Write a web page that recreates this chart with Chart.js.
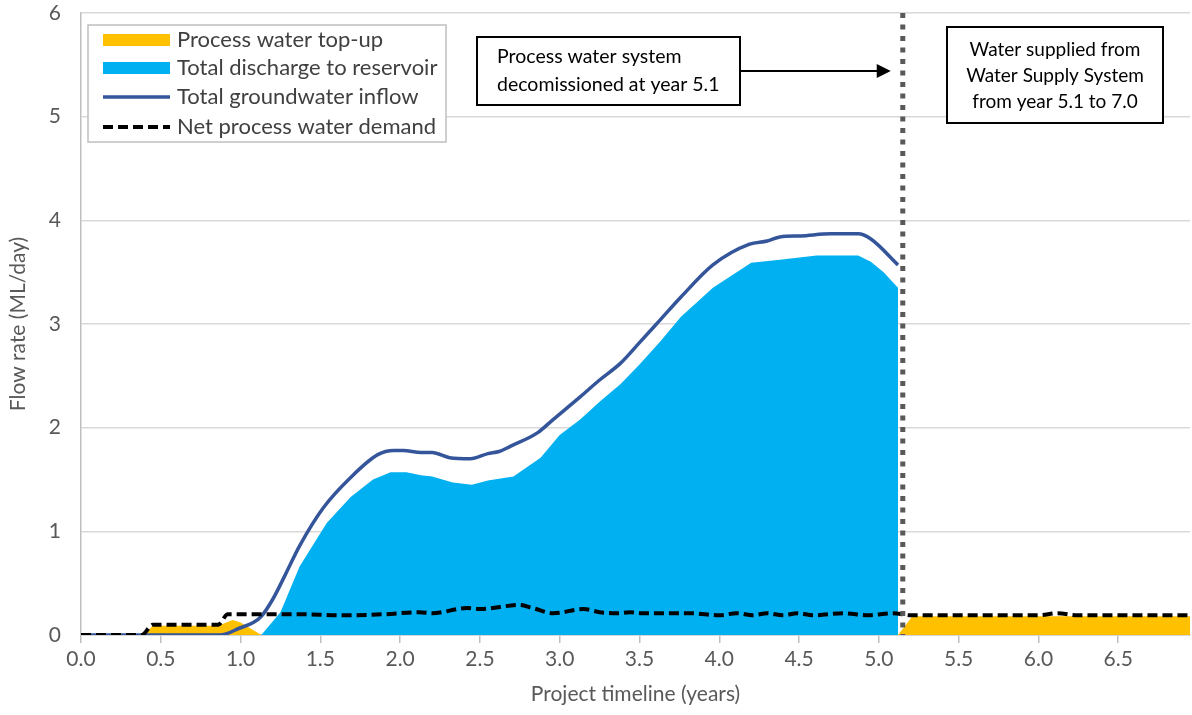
<!DOCTYPE html>
<html lang="en">
<head>
    <meta charset="UTF-8">
    <script src="https://cdn.jsdelivr.net/npm/chart.js@4"></script>
    <title>Flow rate</title>
    <style>
        body { margin: 0; background: #fff; }
    </style>
</head>
<body>
    <canvas id="chart" width="1192" height="715"></canvas>

    <script>
        // values (years, ML/day)
        const topupX = [0, 0.39, 0.45, 0.86, 0.95, 1.0, 1.13, 5.12, 5.21, 6.95];
        const topupY = [0, 0, 0.09, 0.09, 0.145, 0.12, 0, 0, 0.18, 0.18];

        const dischargeX = [0, 1.13, 1.25, 1.37, 1.54, 1.69, 1.83, 1.94, 2.04, 2.13, 2.2, 2.33, 2.45, 2.55, 2.71, 2.88, 3.0, 3.13, 3.25, 3.38, 3.5, 3.63, 3.76, 3.96, 4.2, 4.38, 4.61, 4.87, 4.95, 5.03, 5.12, 5.12];
        const dischargeY = [0, 0, 0.22, 0.66, 1.08, 1.33, 1.5, 1.57, 1.57, 1.54, 1.53, 1.47, 1.45, 1.49, 1.53, 1.71, 1.93, 2.08, 2.25, 2.42, 2.61, 2.83, 3.07, 3.35, 3.59, 3.62, 3.66, 3.66, 3.6, 3.5, 3.35, 0];

        const groundX = [0, 0.87, 1.0, 1.08, 1.13, 1.2, 1.28, 1.37, 1.52, 1.69, 1.86, 1.96, 2.02, 2.13, 2.2, 2.31, 2.44, 2.55, 2.62, 2.69, 2.86, 2.96, 3.13, 3.25, 3.38, 3.5, 3.63, 3.76, 3.96, 4.19, 4.3, 4.38, 4.51, 4.7, 4.87, 4.95, 5.12];
        const groundY = [0, 0, 0.07, 0.12, 0.18, 0.34, 0.58, 0.86, 1.23, 1.52, 1.74, 1.78, 1.78, 1.76, 1.76, 1.71, 1.7, 1.75, 1.77, 1.82, 1.95, 2.08, 2.3, 2.46, 2.62, 2.82, 3.04, 3.26, 3.57, 3.77, 3.8, 3.84, 3.85, 3.87, 3.87, 3.82, 3.57];

        const demandX = [0, 0.38, 0.45, 0.86, 0.92, 1.1, 1.37, 1.62, 1.9, 2.12, 2.2, 2.42, 2.5, 2.75, 2.83, 2.96, 3.15, 3.25, 3.36, 3.44, 3.52, 3.82, 4.0, 4.11, 4.21, 4.3, 4.4, 4.49, 4.59, 4.78, 4.93, 5.09, 5.2, 6.0, 6.12, 6.25, 6.95];
        const demandY = [0, 0, 0.1, 0.1, 0.2, 0.2, 0.2, 0.19, 0.2, 0.22, 0.21, 0.26, 0.25, 0.29, 0.26, 0.21, 0.25, 0.22, 0.21, 0.22, 0.21, 0.21, 0.19, 0.21, 0.19, 0.21, 0.19, 0.21, 0.19, 0.21, 0.19, 0.21, 0.19, 0.19, 0.21, 0.19, 0.19];

        const xTicks = [0, 0.5, 1, 1.5, 2, 2.5, 3, 3.5, 4, 4.5, 5, 5.5, 6, 6.5];
        const decommissionYear = 5.15;

        const legendLabels = ['Process water top-up', 'Total discharge to reservoir', 'Total groundwater inflow', 'Net process water demand'];

        function pts(xs, ys) {
            return xs.map((x, i) => ({x: x, y: ys[i]}));
        }

        const FONT = 'Lato, "Open Sans", sans-serif';
        const TEXT = '#595959';

        // legend, vertical marker and notes, drawn on top
        const extras = {
            id: 'extras',
            afterDatasetsDraw(chart) {
                const ctx = chart.ctx;
                const xs = chart.scales.x;
                const area = chart.chartArea;
                const vx = xs.getPixelForValue(decommissionYear);
                ctx.save();
                ctx.strokeStyle = '#595959';
                ctx.lineWidth = 5;
                ctx.setLineDash([5, 6.5]);
                ctx.beginPath();
                ctx.moveTo(vx, area.top);
                ctx.lineTo(vx, area.bottom);
                ctx.stroke();
                ctx.restore();
            },
            afterDraw(chart) {
                const ctx = chart.ctx;
                const xs = chart.scales.x;
                ctx.save();

                // legend
                ctx.fillStyle = '#fff';
                ctx.fillRect(88, 25, 358, 117);
                ctx.strokeStyle = '#bfbfbf';
                ctx.lineWidth = 1.5;
                ctx.strokeRect(88, 25, 358, 117);
                const rows = [40, 68, 97, 127];
                ctx.font = '22px ' + FONT;
                ctx.textBaseline = 'middle';
                chart.data.datasets.forEach((ds, i) => {
                    const y = rows[i];
                    if (ds.fill) {
                        ctx.fillStyle = ds.backgroundColor;
                        ctx.fillRect(103, y - 6, 67, 12);
                    } else {
                        ctx.strokeStyle = ds.borderColor;
                        ctx.lineWidth = ds.borderWidth;
                        ctx.setLineDash(ds.borderDash || []);
                        ctx.beginPath();
                        ctx.moveTo(103, y);
                        ctx.lineTo(170, y);
                        ctx.stroke();
                        ctx.setLineDash([]);
                    }
                    ctx.fillStyle = '#404040';
                    ctx.textAlign = 'left';
                    ctx.fillText(ds.label, 177, y);
                });

                // note 1 + arrow
                ctx.fillStyle = '#fff';
                ctx.fillRect(477, 37, 263, 68);
                ctx.strokeStyle = '#000';
                ctx.lineWidth = 2;
                ctx.strokeRect(477, 37, 263, 68);
                ctx.fillStyle = '#000';
                ctx.font = '19.5px ' + FONT;
                ctx.fillText('Process water system', 497, 57);
                ctx.fillText('decomissioned at year 5.1', 497, 85);

                const tip = xs.getPixelForValue(decommissionYear) - 12;
                ctx.beginPath();
                ctx.moveTo(740, 71);
                ctx.lineTo(tip - 12, 71);
                ctx.stroke();
                ctx.beginPath();
                ctx.moveTo(tip, 71);
                ctx.lineTo(tip - 14, 64);
                ctx.lineTo(tip - 14, 78);
                ctx.closePath();
                ctx.fill();

                // note 2
                ctx.fillStyle = '#fff';
                ctx.fillRect(947, 27, 216, 96);
                ctx.strokeRect(947, 27, 216, 96);
                ctx.fillStyle = '#000';
                ctx.textAlign = 'center';
                ctx.font = '19px ' + FONT;
                ctx.fillText('Water supplied from', 1055, 50);
                ctx.fillText('Water Supply System', 1055, 76);
                ctx.fillText('from year 5.1 to 7.0', 1055, 102);
                ctx.restore();
            }
        };

        new Chart(document.getElementById('chart').getContext('2d'), {
            type: 'line',
            data: {
                datasets: [{
                    label: legendLabels[0],
                    data: pts(topupX, topupY),
                    backgroundColor: '#FFC000',
                    borderWidth: 0,
                    pointRadius: 0,
                    fill: 'origin',
                    order: 4
                }, {
                    label: legendLabels[1],
                    data: pts(dischargeX, dischargeY),
                    backgroundColor: '#00B0F0',
                    borderWidth: 0,
                    pointRadius: 0,
                    fill: 'origin',
                    order: 3
                }, {
                    label: legendLabels[2],
                    data: pts(groundX, groundY),
                    borderColor: '#34559A',
                    borderWidth: 3.5,
                    pointRadius: 0,
                    fill: false,
                    cubicInterpolationMode: 'monotone',
                    order: 2
                }, {
                    label: legendLabels[3],
                    data: pts(demandX, demandY),
                    borderColor: '#000',
                    borderWidth: 4,
                    borderDash: [10, 5],
                    pointRadius: 0,
                    fill: false,
                    cubicInterpolationMode: 'monotone',
                    order: 1
                }]
            },
            options: {
                responsive: false,
                animation: false,
                devicePixelRatio: 1,
                layout: {
                    padding: {top: 13, right: 2, left: 0, bottom: 0}
                },
                plugins: {
                    legend: {display: false},
                    tooltip: {enabled: false}
                },
                scales: {
                    x: {
                        type: 'linear',
                        min: 0,
                        max: 6.95,
                        afterBuildTicks(scale) {
                            scale.ticks = xTicks.map(v => ({value: v}));
                        },
                        afterFit(scale) { scale.height = 80; },
                        ticks: {
                            autoSkip: false,
                            maxRotation: 0,
                            padding: 4,
                            color: TEXT,
                            font: {family: FONT, size: 21},
                            callback: v => Number(v).toFixed(1)
                        },
                        grid: {
                            drawOnChartArea: false,
                            drawTicks: true,
                            tickLength: 8,
                            color: '#bfbfbf',
                            lineWidth: 1.5
                        },
                        border: {color: '#bfbfbf', width: 1.5},
                        title: {
                            display: true,
                            text: 'Project timeline (years)',
                            color: TEXT,
                            font: {family: FONT, size: 21},
                            padding: {top: 8, bottom: 8}
                        }
                    },
                    y: {
                        min: 0,
                        max: 6,
                        afterFit(scale) { scale.width = 81; },
                        ticks: {
                            stepSize: 1,
                            padding: 0,
                            color: TEXT,
                            font: {family: FONT, size: 21}
                        },
                        grid: {
                            drawTicks: true,
                            tickLength: 20,
                            tickColor: 'rgba(0,0,0,0)',
                            color: '#d9d9d9',
                            lineWidth: 1.5
                        },
                        border: {color: '#bfbfbf', width: 1.5},
                        title: {
                            display: true,
                            text: 'Flow rate (ML/day)',
                            color: TEXT,
                            font: {family: FONT, size: 21},
                            padding: {top: 6, bottom: 0}
                        }
                    }
                }
            },
            plugins: [extras]
        });
    </script>
</body>
</html>
